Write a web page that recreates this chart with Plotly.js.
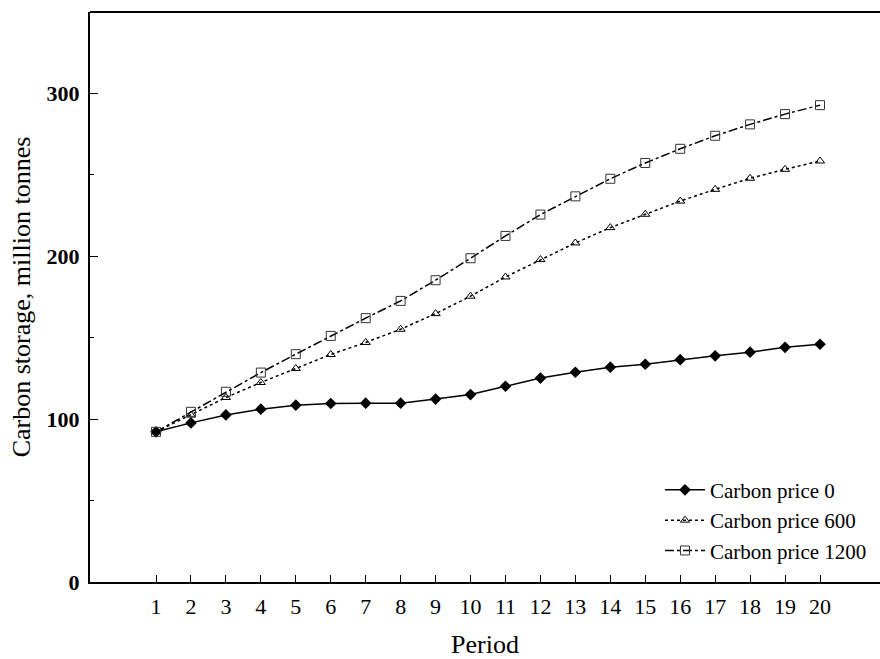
<!DOCTYPE html>
<html>
<head>
<meta charset="utf-8">
<script src="https://cdn.plot.ly/plotly-3.0.1.min.js"></script>
<style>html,body{margin:0;padding:0;background:#fff;}#chart{width:880px;height:659px;}</style>
</head>
<body>
<div id="chart"></div>
<script>
const periods = [1,2,3,4,5,6,7,8,9,10,11,12,13,14,15,16,17,18,19,20];
const price0 = [92.2,97.7,102.6,106.1,108.6,109.6,109.8,109.8,112.3,115.1,120.2,125.2,128.8,131.9,133.7,136.5,138.9,141.1,144.1,146.0];
const price600 = [92.2,102.5,113.3,122.5,131.1,139.7,147.1,155.2,164.8,175.5,187.3,198.0,208.2,217.6,225.8,233.9,241.1,247.9,253.4,258.5];
const price1200 = [92.2,104.5,116.8,128.6,139.9,151.1,162.0,172.6,185.3,198.8,212.5,225.6,236.8,247.6,257.3,266.0,274.0,281.0,287.3,292.8];
const seriesNames = ["Carbon price 0","Carbon price 600","Carbon price 1200"];
const yTicks = [0,100,200,300];

const serif = "Liberation Serif, Times New Roman, serif";
const traces = [
  {x: periods, y: price0, name: seriesNames[0], mode: "lines+markers",
   line: {color: "#000", width: 1.5, dash: "solid"},
   marker: {symbol: "diamond", size: 9, color: "#000"}},
  {x: periods, y: price600, name: seriesNames[1], mode: "lines+markers",
   line: {color: "#000", width: 1.5, dash: "dot"},
   marker: {symbol: "triangle-up-open", size: 8, color: "#000", line: {width: 1}}},
  {x: periods, y: price1200, name: seriesNames[2], mode: "lines+markers",
   line: {color: "#000", width: 1.5, dash: "dashdot"},
   marker: {symbol: "square-open", size: 9, color: "#333", line: {width: 1}}}
];

const layout = {
  width: 880, height: 659,
  margin: {l: 90, r: 0, t: 12, b: 77},
  paper_bgcolor: "#fff", plot_bgcolor: "#fff",
  showlegend: true,
  font: {family: serif, color: "#000", size: 22},
  xaxis: {
    range: [-0.889, 21.717],
    tickvals: periods,
    ticktext: periods.map(String),
    ticks: "inside", ticklen: 7, tickwidth: 1, tickcolor: "#000",
    showline: true, linecolor: "#000", linewidth: 2,
    showgrid: false, zeroline: false,
    tickfont: {family: serif, size: 22, color: "#000"},
    ticklabelstandoff: 4,
    title: {text: "Period", font: {family: serif, size: 26, color: "#000"}, standoff: 18}
  },
  yaxis: {
    range: [0, 350],
    tickvals: yTicks,
    ticks: "inside", ticklen: 8, tickwidth: 1, tickcolor: "#000",
    minor: {tickvals: [50,150,250], ticks: "inside", ticklen: 4, tickcolor: "#000", tickwidth: 1, showgrid: false},
    showline: true, linecolor: "#000", linewidth: 2,
    showgrid: false, zeroline: false,
    tickfont: {family: serif, size: 22, color: "#000", weight: "bold"},
    ticklabelstandoff: 4,
    title: {text: "Carbon storage, million tonnes", font: {family: serif, size: 26, color: "#000"}, standoff: 8}
  },
  legend: {
    x: 0.7215, xanchor: "left", y: 0.197, yanchor: "top",
    bgcolor: "rgba(0,0,0,0)", borderwidth: 0,
    font: {family: serif, size: 21, color: "#000"},
    tracegroupgap: 0, itemwidth: 40
  },
  shapes: [
    {type: "line", xref: "paper", yref: "paper", x0: 0, x1: 1, y0: 1, y1: 1, line: {color: "#000", width: 2}}
  ]
};

Plotly.newPlot("chart", traces, layout, {displayModeBar: false, staticPlot: true});
</script>
</body>
</html>
